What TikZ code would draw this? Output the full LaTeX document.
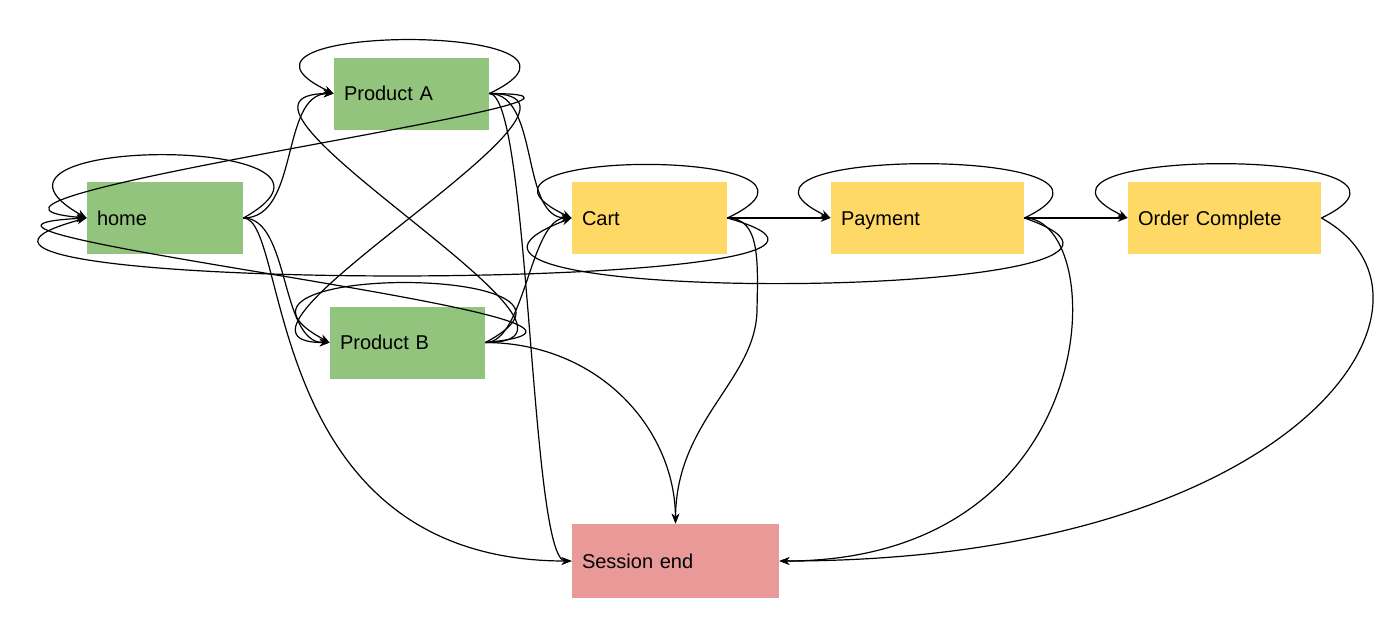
\documentclass[tikz,border=0pt]{standalone}
\usepackage{fontspec}
\setmainfont{Liberation Sans}
\usetikzlibrary{arrows.meta}
\definecolor{boxgreen}{RGB}{147,196,125}
\definecolor{boxyellow}{RGB}{255,217,102}
\definecolor{boxpink}{RGB}{234,153,153}
\tikzset{
  box/.style={rectangle, draw=none, inner xsep=5pt, inner ysep=0pt, align=left,
    minimum height=36pt, text height=9pt, text depth=1.8pt,
    font=\fontsize{10}{12}\selectfont},
  edge/.style={line width=0.6pt, -{Stealth[length=5pt,width=3.8pt]}},
}
\begin{document}
\begin{tikzpicture}[x=0.5pt,y=-0.5pt]
\useasboundingbox (0,0) rectangle (1400,629);
% nodes
\node[box, fill=boxgreen, text width=68pt] (home) at (165,218) {home};
\node[box, fill=boxgreen, text width=67.5pt] (A) at (411.5,93.5) {Product A};
\node[box, fill=boxgreen, text width=67.5pt] (B) at (407.5,342.5) {Product B};
\node[box, fill=boxyellow, text width=67.5pt] (cart) at (649.5,218) {Cart};
\node[box, fill=boxyellow, text width=86.5pt] (pay) at (927.5,218) {Payment};
\node[box, fill=boxyellow, text width=86.5pt] (ord) at (1224.5,218) {Order Complete};
\node[box, fill=boxpink, text width=93.5pt, minimum height=37pt] (end) at (675.5,561) {Session end};
% self loops
\draw[edge] (home.east) .. controls (393,134) and (-63,134) .. (home.west);
\draw[edge] (A.east) .. controls (639,22) and (184,22) .. (A.west);
\draw[edge] (B.east) .. controls (635,263) and (180,263) .. (B.west);
\draw[edge] (cart.east) .. controls (877,147) and (422,147) .. (cart.west);
\draw[edge] (pay.east) .. controls (1174,146) and (681,146) .. (pay.west);
\draw[edge] (ord.east) .. controls (1471,146) and (978,146) .. (ord.west);
% from home
\draw[edge] (home.east) .. controls (300,218) and (280,94) .. (A.west);
\draw[edge] (home.east) .. controls (290,218) and (280,343) .. (B.west);
\draw[edge] (home.east) .. controls (290,218) and (260,561) .. (end.west);
% from Product A
\draw[edge] (A.east) .. controls (700,94) and (-120,200) .. (home.west);
\draw[edge] (A.east) .. controls (640,94) and (180,343) .. (B.west);
\draw[edge] (A.east) .. controls (540,94) and (520,218) .. (cart.west);
\draw[edge] (A.east) .. controls (530,94) and (530,561) .. (end.west);
% from Product B
\draw[edge] (B.east) .. controls (640,343) and (180,94) .. (A.west);
\draw[edge] (B.east) .. controls (720,320) and (-150,230) .. (home.west);
\draw[edge] (B.east) .. controls (525,343) and (530,218) .. (cart.west);
\draw[edge] (B.east) .. controls (600,343) and (675,430) .. (end.north);
% from Cart
\draw[edge] (cart.east) -- (pay.west);
\draw[edge] (cart.east) .. controls (1000,295) and (-200,295) .. (home.west);
\draw[edge] (cart.east) .. controls (760,218) and (758,260) .. (757,310)
  .. controls (756,380) and (676,420) .. (end.north);
% from Payment
\draw[edge] (pay.east) -- (ord.west);
\draw[edge] (pay.east) .. controls (1260,300) and (330,310) .. (cart.west);
\draw[edge] (pay.east) .. controls (1110,218) and (1110,561) .. (end.east);
% from Order Complete
\draw[edge] (ord.east) .. controls (1470,300) and (1300,561) .. (end.east);
\end{tikzpicture}
\end{document}
